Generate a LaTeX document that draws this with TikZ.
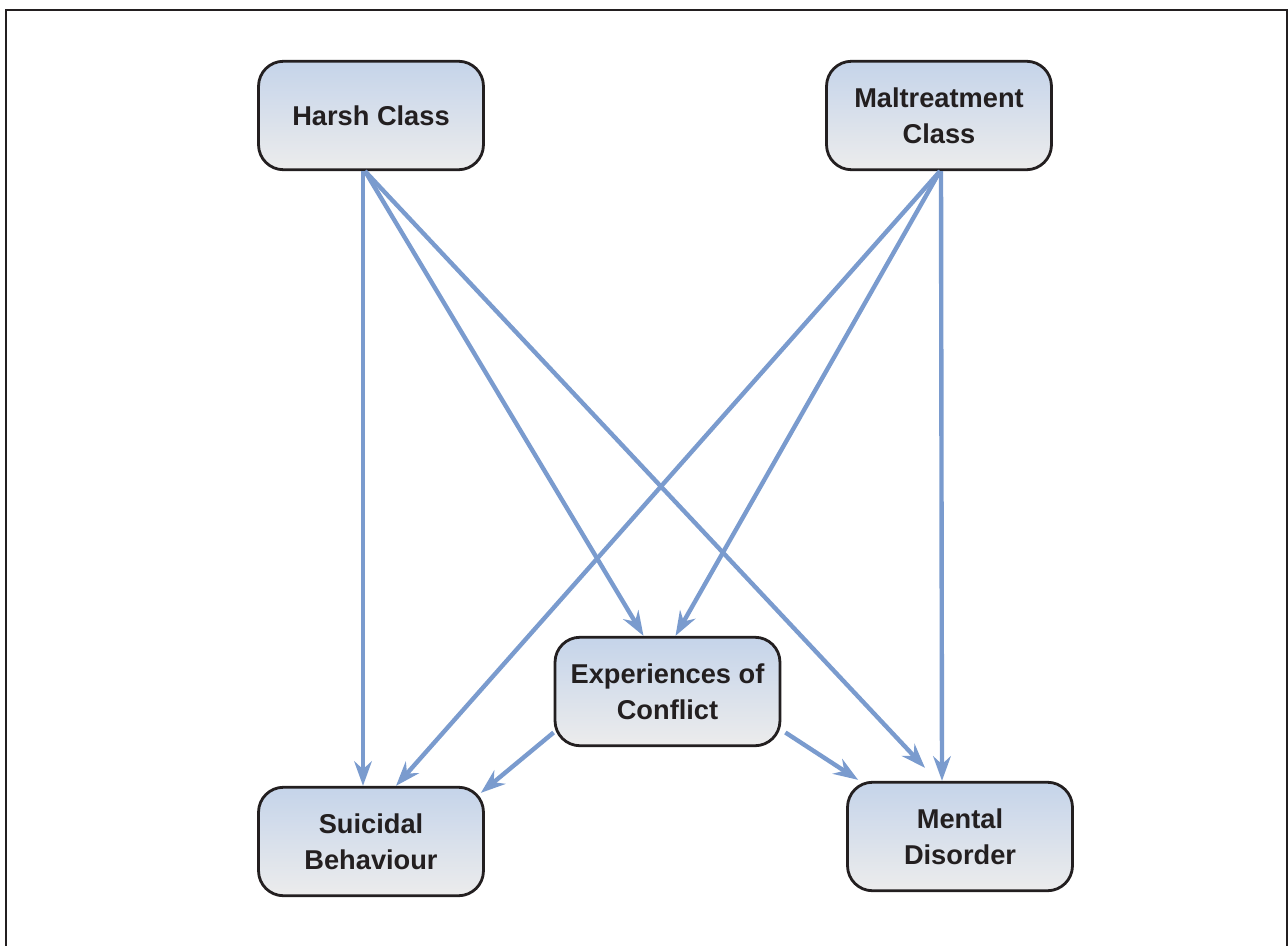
\documentclass[tikz,border=0pt]{standalone}
\usepackage{fontspec}
\setmainfont{Liberation Sans}
\usetikzlibrary{positioning,arrows.meta,calc}
\definecolor{linkblue}{RGB}{122,155,206}
\definecolor{boxtop}{RGB}{197,212,234}
\definecolor{boxbot}{RGB}{236,236,236}
\definecolor{inkline}{RGB}{35,31,32}

\begin{document}
\begin{tikzpicture}[
  x=0.02cm, y=-0.02cm,
  vbox/.style={rectangle, rounded corners=0.5cm, draw=inkline, line width=1.6pt,
               top color=boxtop, bottom color=boxbot,
               minimum width=4.5cm, minimum height=2.17cm, align=center,
               font=\fontsize{15.5}{20.5}\selectfont\bfseries, text=inkline},
  link/.style={-{Stealth[length=14pt, width=10pt]}, line width=2.5pt, linkblue},
  frame/.style={draw=inkline, line width=1.2pt},
]
\useasboundingbox (0,0) rectangle (1288,946);

%% outer frame (open at the bottom)
\draw[frame] (6,946) -- (6,10) -- (1287,10) -- (1287,946);

%% class variables
\node[vbox] (harsh) at (371,115.5) {Harsh Class};
\node[vbox] (malt)  at (939,115.5) {Maltreatment\\Class};

%% mediator
\node[vbox] (conflict) at (667.5,691.5) {Experiences of\\Conflict};

%% outcomes
\node[vbox] (suicid) at (371,841.5) {Suicidal\\Behaviour};
\node[vbox] (mental) at (960,836.5) {Mental\\Disorder};

%% paths from harsh class
\draw[link] ($(harsh.south)+(-8,0)$) -- ($(suicid.north)+(-8,0)$);
\draw[link] ($(harsh.south)+(-6,0)$) -- ($(conflict.north)+(-24,0)$);
\draw[link] ($(harsh.south)+(-6,0)$) -- ($(mental.north)+(-35,-13)$);

%% paths from maltreatment class
\draw[link] ($(malt.south)+(1,0)$) -- ($(suicid.north)+(25,0)$);
\draw[link] ($(malt.south)+(1,0)$) -- ($(conflict.north)+(8,0)$);
\draw[link] ($(malt.south)+(2,0)$) -- ($(mental.north)+(-18,0)$);

%% paths from the mediator
\draw[link] ($(conflict.west)+(0,41)$) -- ($(suicid.north east)+(-4,7)$);
\draw[link] ($(conflict.east)+(4,41)$) -- ($(mental.north west)+(12,-1)$);

\end{tikzpicture}
\end{document}
